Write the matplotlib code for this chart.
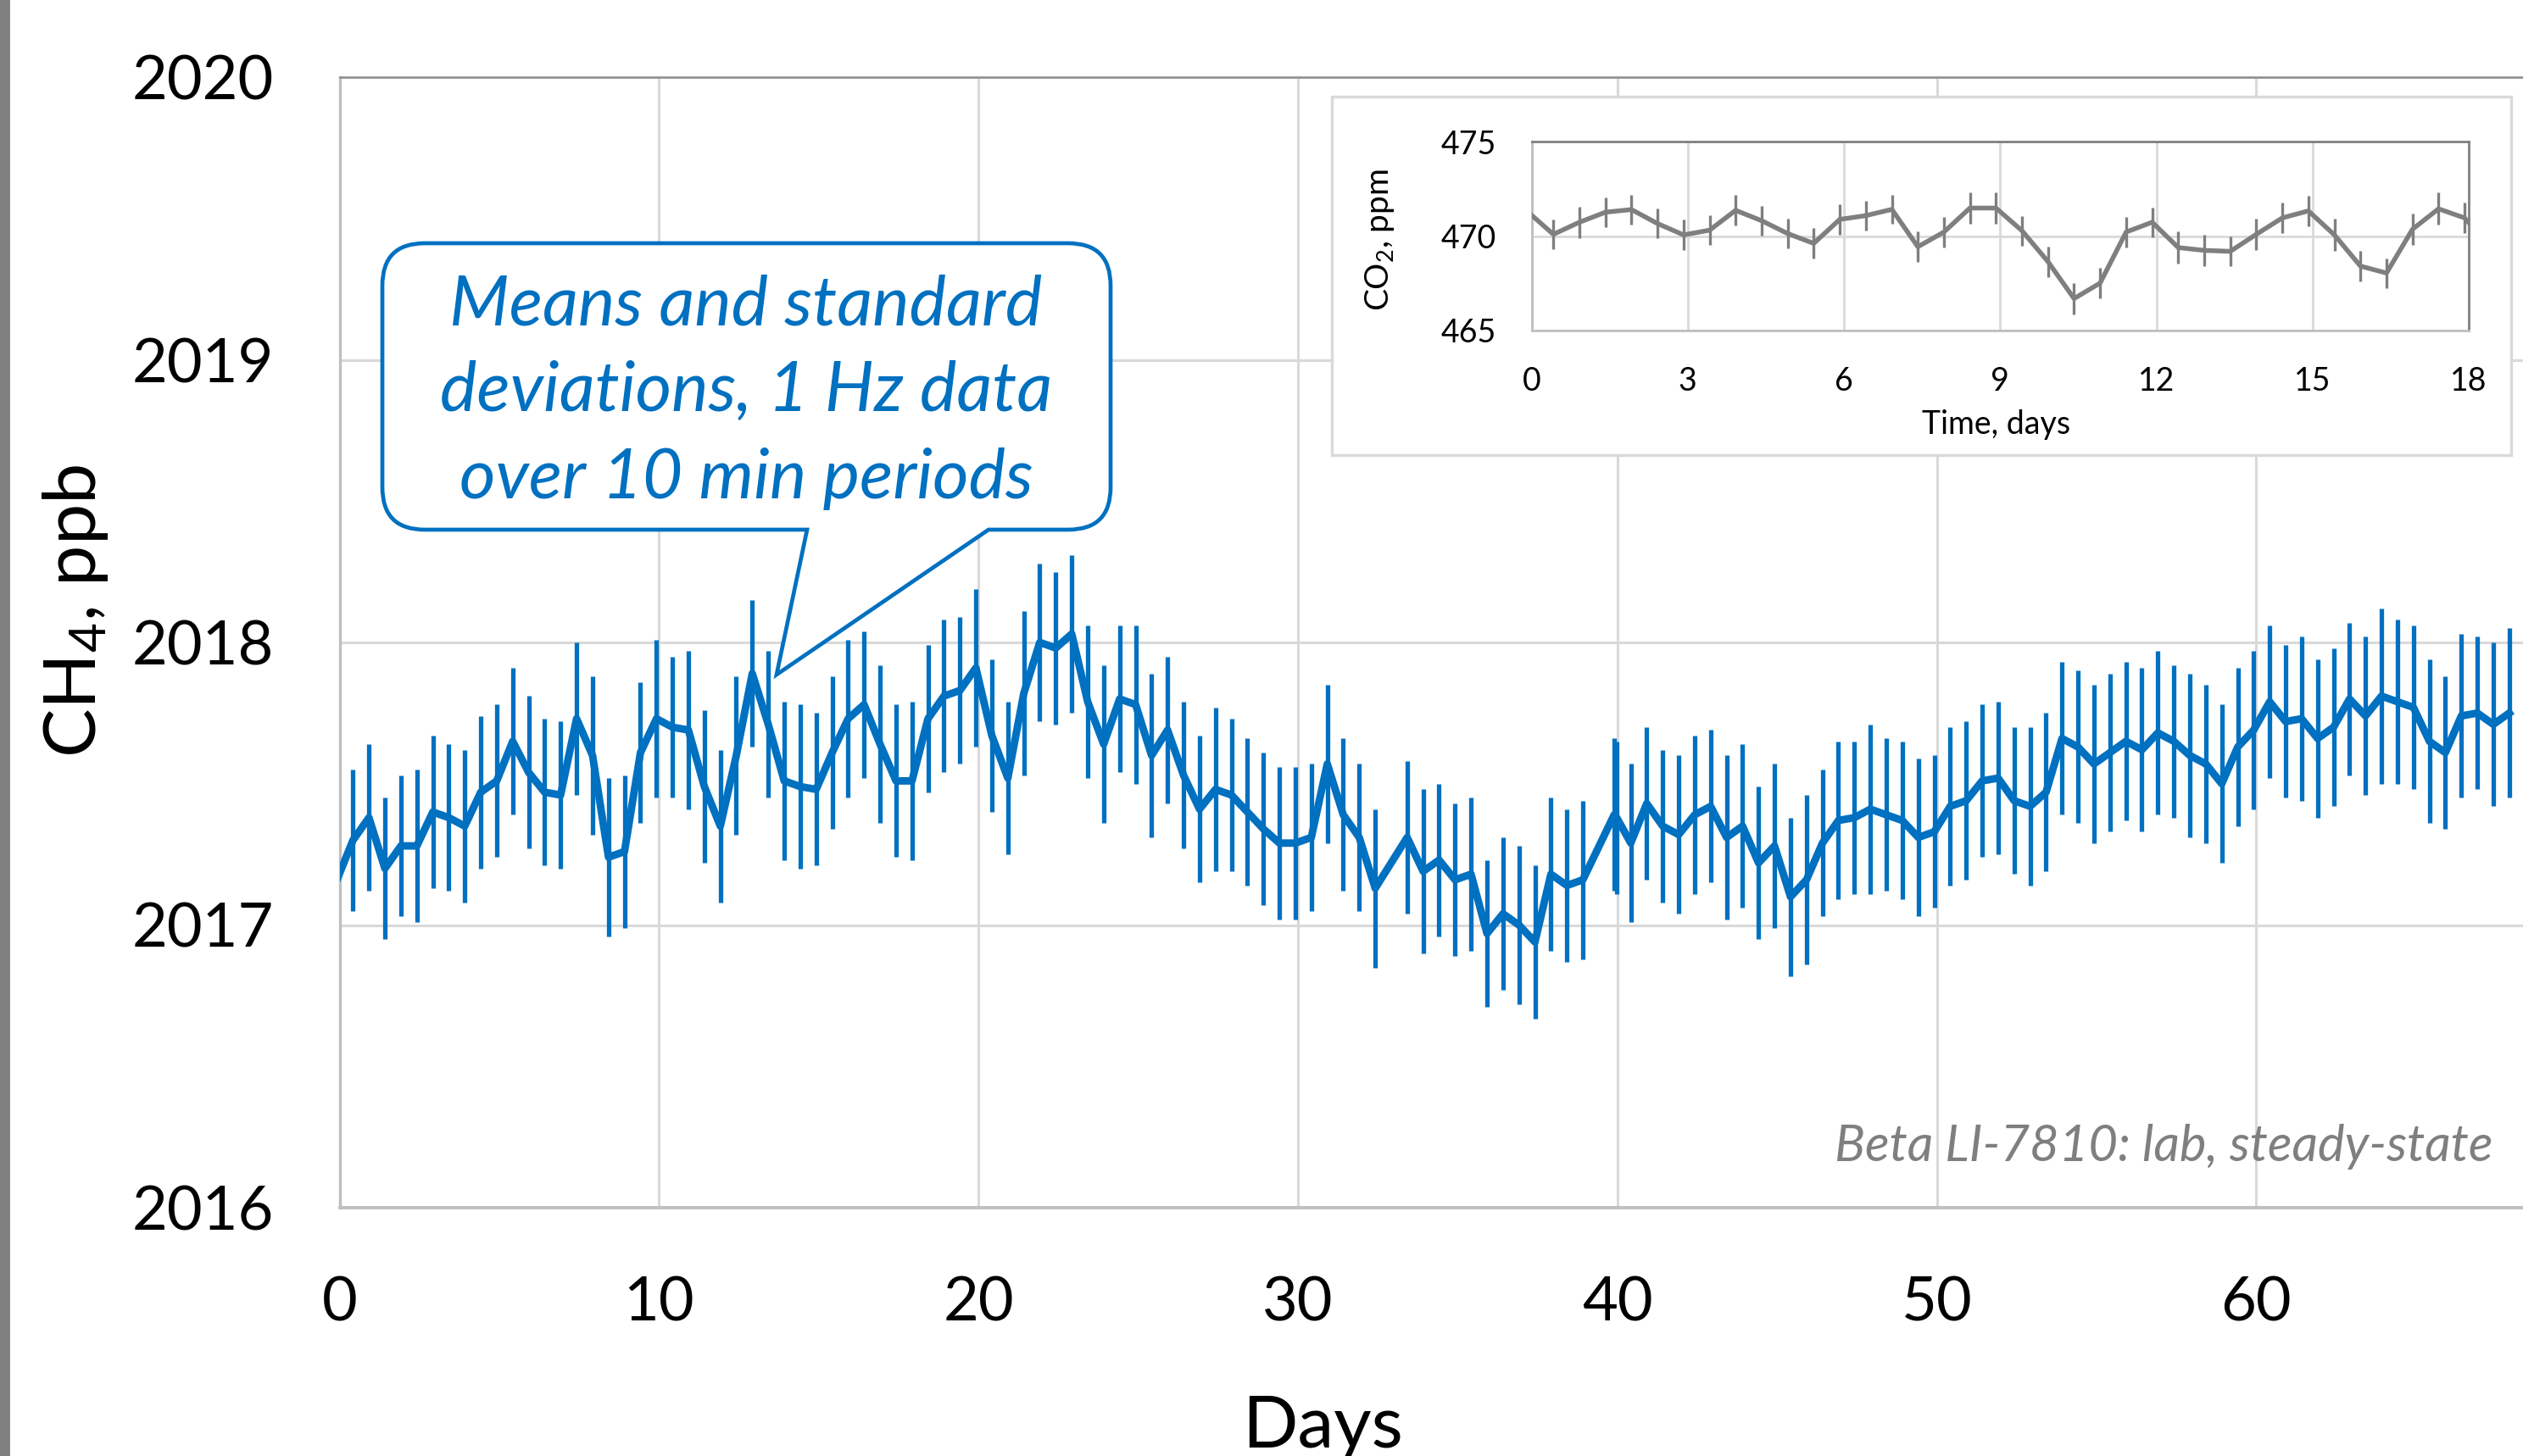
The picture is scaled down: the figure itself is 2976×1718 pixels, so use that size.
import matplotlib.pyplot as plt
from matplotlib.path import Path
from matplotlib.patches import PathPatch, Rectangle

plt.rcParams['font.family'] = ['Lato', 'DejaVu Sans']
plt.rcParams['mathtext.default'] = 'regular'

# ==== colours ====
BLUE = '#0070C0'
GREY = '#7F7F7F'
GRID = '#D9D9D9'

# ==== CH4 data: 10 min means and SDs ====
days = [-0.08, 0.42, 0.92, 1.42, 1.92, 2.42, 2.92, 3.42, 3.92, 4.42,
        4.92, 5.42, 5.92, 6.42, 6.92, 7.42, 7.92, 8.42, 8.92, 9.42,
        9.92, 10.42, 10.92, 11.42, 11.92, 12.42, 12.92, 13.42, 13.92, 14.42,
        14.92, 15.42, 15.92, 16.42, 16.92, 17.42, 17.92, 18.42, 18.92, 19.42,
        19.92, 20.42, 20.92, 21.42, 21.92, 22.42, 22.92, 23.42, 23.92, 24.42,
        24.92, 25.42, 25.92, 26.42, 26.92, 27.42, 27.92, 28.42, 28.92, 29.42,
        29.92, 30.42, 30.92, 31.42, 31.92, 32.42,
        33.42, 33.92, 34.42, 34.92, 35.42, 35.92, 36.42, 36.92, 37.42, 37.92,
        38.42, 38.92,
        39.90, 39.98,
        40.42, 40.92, 41.42, 41.92, 42.42, 42.92, 43.42, 43.92, 44.42, 44.92,
        45.42, 45.92, 46.42, 46.92, 47.42, 47.92, 48.42, 48.92, 49.42, 49.92,
        50.42, 50.92, 51.42, 51.92, 52.42, 52.92, 53.42, 53.92, 54.42, 54.92,
        55.42, 55.92, 56.42, 56.92, 57.42, 57.92, 58.42, 58.92, 59.42, 59.92,
        60.42, 60.92, 61.42, 61.92, 62.42, 62.92, 63.42, 63.92, 64.42, 64.92,
        65.42, 65.92, 66.42, 66.92, 67.42, 67.92]

ch4_mean = [2017.16, 2017.30, 2017.38, 2017.20, 2017.28, 2017.28, 2017.40, 2017.38, 2017.35, 2017.47,
            2017.51, 2017.65, 2017.54, 2017.47, 2017.46, 2017.73, 2017.60, 2017.24, 2017.26, 2017.61,
            2017.73, 2017.70, 2017.69, 2017.49, 2017.35, 2017.60, 2017.89, 2017.71, 2017.51, 2017.49,
            2017.48, 2017.61, 2017.73, 2017.78, 2017.64, 2017.51, 2017.51, 2017.73, 2017.81, 2017.83,
            2017.91, 2017.67, 2017.52, 2017.82, 2018.00, 2017.98, 2018.03, 2017.79, 2017.64, 2017.80,
            2017.78, 2017.60, 2017.69, 2017.53, 2017.41, 2017.48, 2017.46, 2017.40, 2017.34, 2017.29,
            2017.29, 2017.31, 2017.57, 2017.39, 2017.31, 2017.13,
            2017.31, 2017.19, 2017.23, 2017.16, 2017.18, 2016.97, 2017.04, 2017.00, 2016.94, 2017.18,
            2017.14, 2017.16,
            2017.39, 2017.38,
            2017.29, 2017.43, 2017.35, 2017.32, 2017.39, 2017.42, 2017.31, 2017.35, 2017.22, 2017.28,
            2017.10, 2017.16, 2017.29, 2017.37, 2017.38, 2017.41, 2017.39, 2017.37, 2017.31, 2017.33,
            2017.42, 2017.44, 2017.51, 2017.52, 2017.44, 2017.42, 2017.47, 2017.66, 2017.63, 2017.57,
            2017.61, 2017.65, 2017.62, 2017.68, 2017.65, 2017.60, 2017.57, 2017.50, 2017.63, 2017.69,
            2017.79, 2017.72, 2017.73, 2017.66, 2017.70, 2017.80, 2017.74, 2017.81, 2017.79, 2017.77,
            2017.65, 2017.61, 2017.74, 2017.75, 2017.71, 2017.75]

ch4_sd = [0.26, 0.25, 0.26, 0.25, 0.25, 0.27, 0.27, 0.26, 0.27, 0.27,
          0.27, 0.26, 0.27, 0.26, 0.26, 0.27, 0.28, 0.28, 0.27, 0.25,
          0.28, 0.25, 0.28, 0.27, 0.27, 0.28, 0.26, 0.26, 0.28, 0.29,
          0.27, 0.27, 0.28, 0.26, 0.28, 0.27, 0.28, 0.26, 0.27, 0.26,
          0.28, 0.27, 0.27, 0.29, 0.28, 0.27, 0.28, 0.27, 0.28, 0.26,
          0.28, 0.29, 0.26, 0.26, 0.26, 0.29, 0.27, 0.26, 0.27, 0.27,
          0.27, 0.26, 0.28, 0.27, 0.26, 0.28,
          0.27, 0.29, 0.27, 0.27, 0.27, 0.26, 0.27, 0.28, 0.27, 0.27,
          0.27, 0.28,
          0.27, 0.27,
          0.28, 0.27, 0.27, 0.28, 0.28, 0.27, 0.29, 0.29, 0.27, 0.29,
          0.28, 0.30, 0.26, 0.28, 0.27, 0.30, 0.27, 0.28, 0.28, 0.27,
          0.28, 0.28, 0.27, 0.27, 0.26, 0.28, 0.28, 0.27, 0.27, 0.28,
          0.28, 0.28, 0.29, 0.29, 0.27, 0.29, 0.28, 0.28, 0.28, 0.28,
          0.27, 0.27, 0.29, 0.28, 0.28, 0.27, 0.28, 0.31, 0.29, 0.29,
          0.29, 0.27, 0.29, 0.27, 0.29, 0.30]

# ==== CO2 inset data ====
co2_days = [-0.08, 0.42, 0.92, 1.42, 1.92, 2.42, 2.92, 3.42, 3.92, 4.42,
            4.92, 5.42, 5.92, 6.42, 6.92, 7.42, 7.92, 8.42, 8.92, 9.42,
            9.92, 10.42, 10.92, 11.42, 11.92, 12.42, 12.92, 13.42, 13.92, 14.42,
            14.92, 15.42, 15.92, 16.42, 16.92, 17.42, 17.92, 18.42]
co2_mean = [471.30, 470.09, 470.73, 471.26, 471.40, 470.66, 470.06, 470.31, 471.36, 470.81,
            470.13, 469.61, 470.88, 471.08, 471.41, 469.43, 470.21, 471.48, 471.48, 470.28,
            468.64, 466.69, 467.51, 470.21, 470.73, 469.39, 469.24, 469.19, 470.09, 470.96,
            471.33, 470.06, 468.41, 468.04, 470.36, 471.44, 470.96, 469.40]
co2_sd = [0.80, 0.79, 0.82, 0.77, 0.79, 0.79, 0.81, 0.77, 0.80, 0.79,
          0.79, 0.82, 0.80, 0.79, 0.76, 0.81, 0.82, 0.81, 0.81, 0.79,
          0.82, 0.82, 0.82, 0.82, 0.79, 0.86, 0.81, 0.80, 0.81, 0.82,
          0.81, 0.86, 0.82, 0.79, 0.85, 0.85, 0.79, 0.80]

# ==== figure, pixel helpers ====
W, H = 2976, 1718
fig = plt.figure(figsize=(W / 200, H / 200), dpi=200)


def fx(px):
    return px / W


def fy(py):
    return 1 - py / H


# ==== main plot ====
ax = fig.add_axes([fx(400.5), fy(1425), 1 - fx(400.5), (1425 - 91) / H])
ax.errorbar(days, ch4_mean, yerr=ch4_sd, color=BLUE, lw=3.2, elinewidth=1.9,
            capsize=0, solid_joinstyle='round', zorder=3)
ax.set_xlim(0, 68.35)
ax.set_ylim(2016, 2020)
ax.set_xticks(range(0, 61, 10))
ax.set_yticks(range(2016, 2021))
ax.grid(color=GRID, lw=1.1)
ax.set_axisbelow(True)
ax.tick_params(length=0, labelsize=26)
ax.tick_params(axis='y', pad=28)
ax.tick_params(axis='x', pad=29)
ax.spines['right'].set_visible(False)
ax.spines['left'].set_color('#BFBFBF')
ax.spines['left'].set_linewidth(1.2)
ax.spines['bottom'].set_color('#BFBFBF')
ax.spines['bottom'].set_linewidth(1.4)
ax.spines['top'].set_color('#8C8C8C')
ax.spines['top'].set_linewidth(0.9)

fig.text(fx(89), fy(721), r'CH$_{\mathregular{4}}$, ppb', rotation=90,
         ha='center', va='center', fontsize=31)
fig.text(fx(1560), fy(1708), 'Days', ha='center', va='baseline', fontsize=31)

fig.text(fx(2940), fy(1370), 'Beta LI-7810: lab, steady-state', ha='right',
         va='baseline', fontsize=21.5, style='italic', color=GREY)

# ==== inset box + CO2 plot ====
fig.add_artist(Rectangle((fx(1571), fy(537)), (2962 - 1571) / W, (537 - 114) / H,
                         transform=fig.transFigure, facecolor='white',
                         edgecolor=GRID, lw=1.2, zorder=1))

ins = fig.add_axes([fx(1806.5), fy(390), (2912 - 1806.5) / W, (390 - 167) / H], zorder=2)
ins.errorbar(co2_days, co2_mean, yerr=co2_sd, color=GREY, lw=2.0, elinewidth=1.2,
             capsize=0, solid_joinstyle='round', zorder=3)
ins.set_xlim(0, 18)
ins.set_ylim(465, 475)
ins.set_xticks(range(0, 19, 3))
ins.set_yticks([465, 470, 475])
ins.grid(color=GRID, lw=1.0)
ins.set_axisbelow(True)
ins.tick_params(length=0, labelsize=13.5)
ins.tick_params(axis='y', pad=15)
ins.tick_params(axis='x', pad=15)
for side in ['left', 'bottom']:
    ins.spines[side].set_color('#BFBFBF')
    ins.spines[side].set_linewidth(1.0)
for side in ['top', 'right']:
    ins.spines[side].set_color('#808080')
    ins.spines[side].set_linewidth(1.0)

fig.text(fx(2355), fy(512), 'Time, days', ha='center', va='baseline', fontsize=13.5)
fig.text(fx(1628), fy(283), r'CO$_{\mathregular{2}}$, ppm', rotation=90,
         ha='center', va='center', fontsize=14)

# ==== callout bubble ====
L, R, T, B, r = 451, 1310, 287, 625, 50
tail_l, tail_r, tip = 952, 1166, (916, 796)
pts = [(L + r, T), (R - r, T), (R, T), (R, T + r), (R, B - r), (R, B), (R - r, B),
       (tail_r, B), tip, (tail_l, B), (L + r, B), (L, B), (L, B - r), (L, T + r),
       (L, T), (L + r, T), (L + r, T)]
codes = [Path.MOVETO, Path.LINETO, Path.CURVE3, Path.CURVE3, Path.LINETO, Path.CURVE3,
         Path.CURVE3, Path.LINETO, Path.LINETO, Path.LINETO, Path.LINETO, Path.CURVE3,
         Path.CURVE3, Path.LINETO, Path.CURVE3, Path.CURVE3, Path.CLOSEPOLY]
bubble = Path([(fx(x), fy(y)) for x, y in pts], codes)
fig.add_artist(PathPatch(bubble, transform=fig.transFigure, facecolor='white',
                         edgecolor=BLUE, lw=1.7, zorder=3))

for txt, base in [('Means and standard', 383), ('deviations, 1 Hz data', 485),
                  ('over 10 min periods', 588)]:
    fig.text(fx(880), fy(base), txt, ha='center', va='baseline', fontsize=29.5,
             style='italic', color=BLUE, zorder=4)

# grey strip along the left edge
fig.add_artist(Rectangle((0, 0), fx(10), 1, transform=fig.transFigure,
                         color='#808080', zorder=5))

fig.savefig('out.png', dpi=200)
